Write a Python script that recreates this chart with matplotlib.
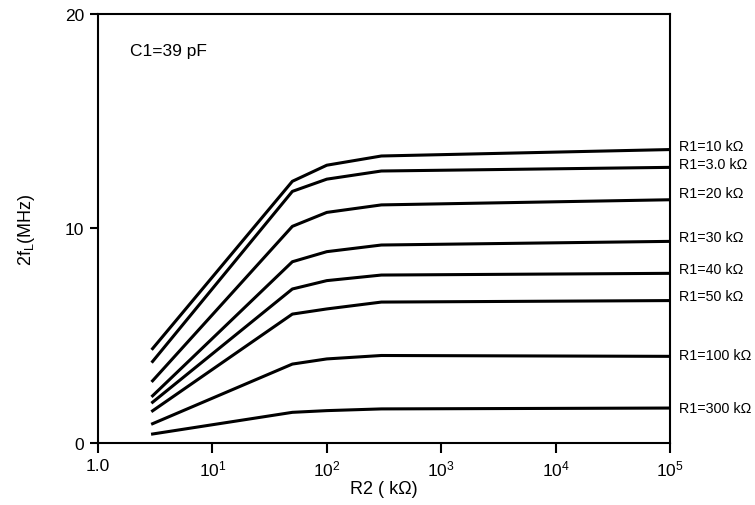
import matplotlib
matplotlib.use('Agg')
import matplotlib.pyplot as plt

plt.rcParams['font.family'] = ['Liberation Sans', 'DejaVu Sans']

# R2 sample points (kOhm)
r2 = [3, 50, 100, 300, 100000]

# 2fL (MHz) for each R1 curve
r1_labels = ['R1=10 kΩ', 'R1=3.0 kΩ', 'R1=20 kΩ', 'R1=30 kΩ',
             'R1=40 kΩ', 'R1=50 kΩ', 'R1=100 kΩ', 'R1=300 kΩ']
f_10k = [4.4, 12.2, 12.95, 13.38, 13.68]
f_3k = [3.8, 11.73, 12.3, 12.68, 12.85]
f_20k = [2.9, 10.1, 10.75, 11.1, 11.34]
f_30k = [2.2, 8.45, 8.92, 9.23, 9.4]
f_40k = [1.9, 7.18, 7.57, 7.83, 7.91]
f_50k = [1.5, 6.01, 6.25, 6.57, 6.64]
f_100k = [0.9, 3.68, 3.92, 4.08, 4.04]
f_300k = [0.42, 1.43, 1.51, 1.59, 1.63]
curves = [f_10k, f_3k, f_20k, f_30k, f_40k, f_50k, f_100k, f_300k]

# label heights (MHz) at right edge
label_y = [13.85, 13.0, 11.65, 9.6, 8.1, 6.85, 4.1, 1.65]

fig = plt.figure(figsize=(7.55, 5.06), dpi=100)
ax = fig.add_axes([0.1298, 0.1225, 0.7576, 0.8479])

for vals in curves:
    ax.plot(r2, vals, color='black', lw=2.2, solid_joinstyle='round')

for lab, yv in zip(r1_labels, label_y):
    ax.text(1.015, yv, lab, transform=ax.get_yaxis_transform(),
            fontsize=10.3, va='center', ha='left')

ax.set_xscale('log')
ax.set_xlim(1, 1e5)
ax.set_ylim(0, 20)
ax.set_xticks([1, 10, 100, 1e3, 1e4, 1e5])
ax.set_xticklabels(['1.0', r'$\mathregular{10^1}$', r'$\mathregular{10^2}$',
                    r'$\mathregular{10^3}$', r'$\mathregular{10^4}$',
                    r'$\mathregular{10^5}$'])
ax.minorticks_off()
ax.set_yticks([0, 10, 20])
ax.tick_params(axis='x', length=7, width=1.5, labelsize=12.5, pad=4)
ax.tick_params(axis='y', length=6, width=1.5, labelsize=12.5, pad=4)
for s in ax.spines.values():
    s.set_linewidth(1.5)

ax.set_xlabel('R2 ( kΩ)', fontsize=13, labelpad=1)
ax.set_ylabel(r'2f$_{\mathregular{L}}$(MHz)', fontsize=13, labelpad=20)

ax.text(0.056, 0.914, 'C1=39 pF', transform=ax.transAxes,
        fontsize=12.5, va='center', ha='left')

fig.savefig('out.png', dpi=100)
